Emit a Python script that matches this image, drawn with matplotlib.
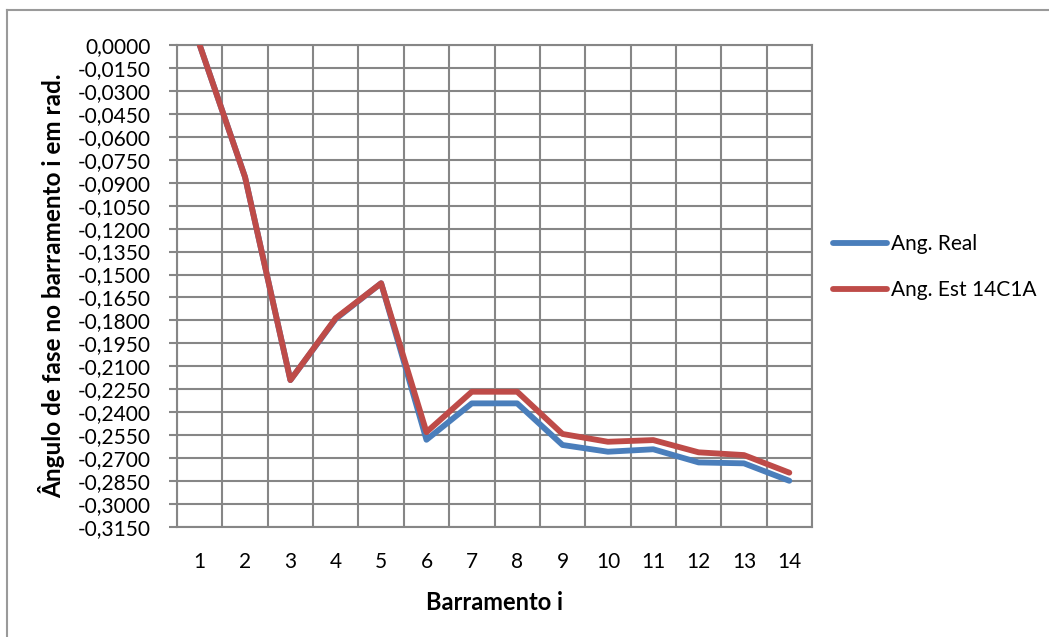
import numpy as np
import matplotlib
matplotlib.use('Agg')
import matplotlib.pyplot as plt
from matplotlib.lines import Line2D
from matplotlib.ticker import FuncFormatter

plt.rcParams['font.family'] = ['Lato', 'DejaVu Sans']

barras = [1, 2, 3, 4, 5, 6, 7, 8, 9, 10, 11, 12, 13, 14]
ang_real = [0.0, -0.0863, -0.2190, -0.1790, -0.1557, -0.2580, -0.2342, -0.2342,
            -0.2614, -0.2658, -0.2642, -0.2728, -0.2734, -0.2848]
ang_est = [0.0, -0.0863, -0.2190, -0.1785, -0.1557, -0.2530, -0.2266, -0.2266,
           -0.2542, -0.2593, -0.2582, -0.2662, -0.2680, -0.2795]
yticks = np.arange(0, 22) * -0.015

fig = plt.figure(figsize=(10.49, 6.37), dpi=100)
ax = fig.add_axes([177/1049, 1-527/637, 635/1049, 482/637])

x = np.arange(len(barras))
ax.plot(x, ang_real, color='#4a7ebb', lw=4.2, solid_capstyle='round', solid_joinstyle='round', label='Ang. Real', zorder=3)
ax.plot(x, ang_est, color='#be4b48', lw=4.2, solid_capstyle='round', solid_joinstyle='round', label='Ang. Est 14C1A', zorder=4)

ax.set_xlim(-0.5, len(barras) - 0.5)
ax.set_ylim(-0.315, 0)
ax.set_yticks(yticks)
ax.yaxis.set_major_formatter(FuncFormatter(lambda v, p: ('%.4f' % v).replace('.', ',').replace('-0,0000', '0,0000')))
ax.set_xticks(x)
ax.set_xticklabels([str(b) for b in barras])
ax.set_xticks(np.arange(len(barras) + 1) - 0.5, minor=True)

# grade cinza estilo excel
gc = '#868686'
ax.grid(True, which='major', axis='y', color=gc, lw=1.5)
ax.grid(True, which='minor', axis='x', color=gc, lw=1.5)
for s in ax.spines.values():
    s.set_color(gc)
    s.set_linewidth(1.5)
ax.tick_params(axis='y', which='major', length=6, width=1.5, color=gc, labelsize=15, pad=13)
ax.tick_params(axis='x', which='both', length=0, labelsize=15, pad=18)
ax.set_axisbelow(True)

ax.set_xlabel('Barramento i', fontsize=17, fontweight='bold', labelpad=14)
ax.set_ylabel('Ângulo de fase no barramento i em rad.', fontsize=17.5, fontweight='bold', labelpad=9)

leg = fig.legend(loc='center left', bbox_to_anchor=(814/1049, 1-267/637), frameon=False, fontsize=15,
                 handlelength=2.6, handletextpad=0.2, labelspacing=1.25)
for h in leg.get_lines():
    h.set_linewidth(4.2)

fig.add_artist(Line2D([7/1049, 1], [1-10/637, 1-10/637], color='#9a9a9a', lw=1.5))
fig.add_artist(Line2D([7/1049, 7/1049], [0, 1-10/637], color='#9a9a9a', lw=1.5))

fig.savefig('out.png', dpi=100)
